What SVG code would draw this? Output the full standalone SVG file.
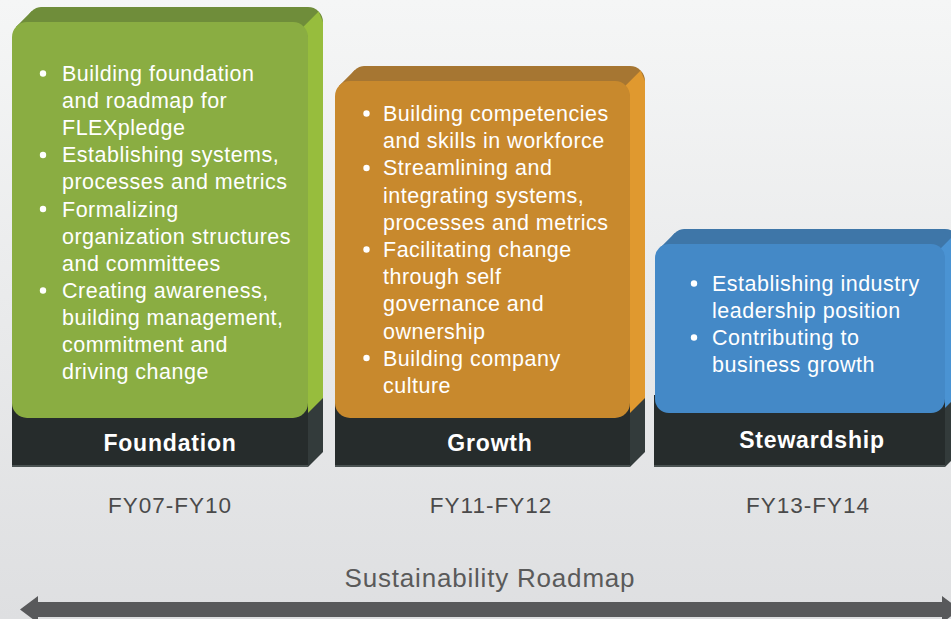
<svg xmlns="http://www.w3.org/2000/svg" width="951" height="619" viewBox="0 0 951 619">
<defs>
<linearGradient id="bg" x1="0" y1="0" x2="0" y2="1">
<stop offset="0" stop-color="#f5f6f6"/>
<stop offset="1" stop-color="#dedfe1"/>
</linearGradient>
</defs>
<style>
.t{font-family:"Liberation Sans",Arial,sans-serif;font-size:21.5px;letter-spacing:0.5px;fill:#ffffff}
.lbl{font-family:"Liberation Sans",Arial,sans-serif;font-size:23px;font-weight:bold;letter-spacing:0.8px;fill:#ffffff;text-anchor:middle}
.fy{font-family:"Liberation Sans",Arial,sans-serif;font-size:22.5px;letter-spacing:1px;fill:#4a4a4a;text-anchor:middle}
.rm{font-family:"Liberation Sans",Arial,sans-serif;font-size:26px;letter-spacing:0.8px;fill:#5a5a5a;text-anchor:middle}
.b{fill:#ffffff}
.dk{fill:#262c2c}
.dks{fill:#333b3b}
</style>
<rect width="951" height="619" fill="url(#bg)"/>

<g id="foundation">
<rect x="27" y="7" width="296" height="445" rx="15" fill="#6f8d3a"/>
<polygon points="16.4,26.4 31.4,11.4 42,7 42,34 16.4,34" fill="#6f8d3a"/>
<polygon points="303.6,26.4 318.6,11.4 323,22 323,400 308,415 308,37" fill="#97bd3d"/>
<polygon points="308,413 323,398 323,452 308,467" class="dks"/>
<rect x="12" y="398" width="296" height="69" class="dk"/>
<rect x="12" y="465" width="296" height="2" fill="#4a5252"/>
<rect x="12" y="22" width="296" height="396" rx="15" fill="#8aad42"/>
<circle cx="43" cy="73.5" r="3.2" class="b"/>
<circle cx="43" cy="155" r="3.2" class="b"/>
<circle cx="43" cy="209" r="3.2" class="b"/>
<circle cx="43" cy="290.5" r="3.2" class="b"/>
<text class="t" x="62" y="81">Building foundation</text>
<text class="t" x="62" y="108.1">and roadmap for</text>
<text class="t" x="62" y="135.2">FLEXpledge</text>
<text class="t" x="62" y="162.3">Establishing systems,</text>
<text class="t" x="62" y="189.4">processes and metrics</text>
<text class="t" x="62" y="216.5">Formalizing</text>
<text class="t" x="62" y="243.6">organization structures</text>
<text class="t" x="62" y="270.7">and committees</text>
<text class="t" x="62" y="297.8">Creating awareness,</text>
<text class="t" x="62" y="324.9">building management,</text>
<text class="t" x="62" y="352">commitment and</text>
<text class="t" x="62" y="379.1">driving change</text>
<text class="lbl" x="170" y="451">Foundation</text>
</g>

<g id="growth">
<rect x="350" y="66" width="295" height="386" rx="15" fill="#a67632"/>
<polygon points="339.4,85.4 354.4,70.4 365,66 365,93 339.4,93" fill="#a67632"/>
<polygon points="625.6,85.4 640.6,70.4 645,81 645,400 630,415 630,96" fill="#e0992f"/>
<polygon points="630,413 645,398 645,452 630,467" class="dks"/>
<rect x="335" y="398" width="295" height="69" class="dk"/>
<rect x="335" y="465" width="295" height="2" fill="#4a5252"/>
<rect x="335" y="81" width="295" height="337" rx="15" fill="#c8892d"/>
<circle cx="366.5" cy="113.5" r="3.2" class="b"/>
<circle cx="366.5" cy="168" r="3.2" class="b"/>
<circle cx="366.5" cy="249.5" r="3.2" class="b"/>
<circle cx="366.5" cy="358" r="3.2" class="b"/>
<text class="t" x="383" y="121">Building competencies</text>
<text class="t" x="383" y="148.2">and skills in workforce</text>
<text class="t" x="383" y="175.4">Streamlining and</text>
<text class="t" x="383" y="202.6">integrating systems,</text>
<text class="t" x="383" y="229.8">processes and metrics</text>
<text class="t" x="383" y="257">Facilitating change</text>
<text class="t" x="383" y="284.2">through self</text>
<text class="t" x="383" y="311.4">governance and</text>
<text class="t" x="383" y="338.6">ownership</text>
<text class="t" x="383" y="365.8">Building company</text>
<text class="t" x="383" y="393">culture</text>
<text class="lbl" x="490" y="451">Growth</text>
</g>

<g id="stewardship">
<rect x="670" y="229" width="290" height="223" rx="15" fill="#3e76a8"/>
<polygon points="659.4,248.4 674.4,233.4 685,229 685,256 659.4,256" fill="#3e76a8"/>
<polygon points="940.6,248.4 955.6,233.4 960,244 960,395 945,410 945,259" fill="#4a93d3"/>
<polygon points="945,408 960,393 960,452 945,467" class="dks"/>
<rect x="654" y="395" width="291" height="72" class="dk"/>
<rect x="654" y="465" width="291" height="2" fill="#4a5252"/>
<rect x="655" y="244" width="290" height="169" rx="14" fill="#4489c7"/>
<circle cx="694" cy="283.5" r="3.2" class="b"/>
<circle cx="694" cy="337.5" r="3.2" class="b"/>
<text class="t" x="712" y="291">Establishing industry</text>
<text class="t" x="712" y="318">leadership position</text>
<text class="t" x="712" y="345">Contributing to</text>
<text class="t" x="712" y="372">business growth</text>
<text class="lbl" x="812" y="448">Stewardship</text>
</g>

<g id="periods">
<text class="fy" x="170" y="513">FY07-FY10</text>
<text class="fy" x="491" y="513">FY11-FY12</text>
<text class="fy" x="808" y="513">FY13-FY14</text>
</g>

<g id="connectors">
<text class="rm" x="490" y="587">Sustainability Roadmap</text>
<polygon points="20,609.5 38,596 38,602 942,602 942,596 960,609.5 942,623 942,617 38,617 38,623" fill="#58595b"/>
</g>
</svg>
